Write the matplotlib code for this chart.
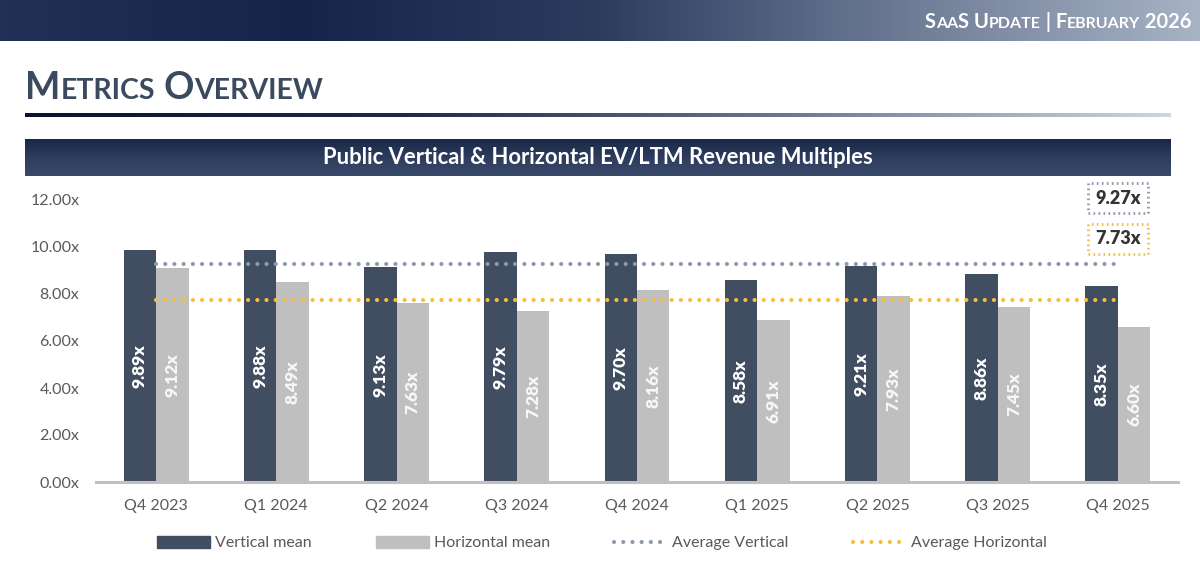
import matplotlib.pyplot as plt
import matplotlib.transforms as mtransforms
from matplotlib.colors import LinearSegmentedColormap
from matplotlib.patches import Patch
from matplotlib.lines import Line2D
import numpy as np

plt.rcParams['font.family'] = ['Lato', 'DejaVu Sans']

# chart data
quarters = ['Q4 2023', 'Q1 2024', 'Q2 2024', 'Q3 2024', 'Q4 2024',
            'Q1 2025', 'Q2 2025', 'Q3 2025', 'Q4 2025']
vertical_mean = [9.89, 9.88, 9.13, 9.79, 9.70, 8.58, 9.21, 8.86, 8.35]
horizontal_mean = [9.12, 8.49, 7.63, 7.28, 8.16, 6.91, 7.93, 7.45, 6.60]
avg_vertical = 9.27
avg_horizontal = 7.73
y_ticks = [0, 2, 4, 6, 8, 10, 12]

# colours
dark = '#414d60'
gray = '#bfbfbf'
avg_v_color = '#8d99ad'
avg_h_color = '#f5bf3a'
text_gray = '#595959'

W, H = 1200, 571
fig = plt.figure(figsize=(W / 100, H / 100), dpi=100)


def px_box(x0, y0, x1, y1):
    # pixel box (top-left origin) -> figure fraction rect
    return [x0 / W, 1 - y1 / H, (x1 - x0) / W, (y1 - y0) / H]


def gradient_axes(rect, colors, vertical=False):
    gax = fig.add_axes(rect)
    gax.set_axis_off()
    cmap = LinearSegmentedColormap.from_list('g', colors)
    grad = np.linspace(0, 1, 256)
    if vertical:
        grad = grad.reshape(-1, 1)
    else:
        grad = grad.reshape(1, -1)
    gax.imshow(grad, aspect='auto', cmap=cmap, extent=[0, 1, 0, 1])
    return gax


def small_caps(x, y, text, big, small, color, ha='left', weight='bold'):
    # draw text in small caps, x/y in pixels (top-left origin)
    renderer = fig.canvas.get_renderer()
    pieces = []
    cur = x
    i = 0
    while i < len(text):
        is_low = text[i].islower()
        j = i
        while j < len(text) and text[j].islower() == is_low:
            j += 1
        chunk = text[i:j]
        size = small if is_low else big
        t = fig.text(cur / W, 1 - y / H, chunk.upper(), fontsize=size,
                     color=color, fontweight=weight, va='baseline', ha='left')
        bb = t.get_window_extent(renderer)
        cur += bb.width
        pieces.append(t)
        i = j
    if ha == 'right':
        shift = cur - x
        for t in pieces:
            px, py = t.get_position()
            t.set_position((px - shift / W, py))


# header band
gradient_axes(px_box(0, 0, W, 41),
              ['#213156', '#15254a', '#2c3c5f', '#6c7a94', '#a7b2c4'])
small_caps(1192, 28, 'SaaS Update | February 2026', 14.5, 11.5, 'white', ha='right')

# page title
small_caps(25, 99, 'Metrics Overview', 27, 20.5, '#3c4a5f')
gradient_axes(px_box(25, 113, 1171, 117),
              ['#0b1330', '#1c2a4c', '#6a7890', '#cfd6e2'])

# chart title band
gradient_axes(px_box(25, 139, 1171, 176), ['#1a2846', '#2e3d5e', '#3a4a6b'],
              vertical=True)
fig.text(598 / W, 1 - 158 / H, 'Public Vertical & Horizontal EV/LTM Revenue Multiples',
         color='white', fontsize=15.8, fontweight='bold', ha='center', va='center')

# main chart
ax = fig.add_axes(px_box(96, 200, 1178, 482))
x = np.arange(len(quarters))
bw = 0.27
bars_v = ax.bar(x - bw / 2, vertical_mean, bw, color=dark, label='Vertical mean', zorder=2)
bars_h = ax.bar(x + bw / 2, horizontal_mean, bw, color=gray, label='Horizontal mean', zorder=2)

for b, v in zip(bars_v, vertical_mean):
    ax.text(b.get_x() + b.get_width() / 2, v / 2, f'{v:.2f}x', rotation=90,
            ha='center', va='center', color='white', fontsize=12.5, fontweight='heavy')
for b, v in zip(bars_h, horizontal_mean):
    ax.text(b.get_x() + b.get_width() / 2, v / 2, f'{v:.2f}x', rotation=90,
            ha='center', va='center', color='#f7f7f7', fontsize=12.5, fontweight='heavy')

dot_lw = 3.0
dots = (0, (0.01, 6.6 / dot_lw))
ax.plot([x[0], x[-1]], [avg_vertical] * 2, color=avg_v_color, lw=dot_lw,
        linestyle=dots, dash_capstyle='round', zorder=3)
ax.plot([x[0], x[-1]], [avg_horizontal] * 2, color=avg_h_color, lw=dot_lw,
        linestyle=dots, dash_capstyle='round', zorder=3)

ax.set_xlim(-0.5, len(quarters) - 0.5)
ax.set_ylim(0, 12)
ax.set_yticks(y_ticks)
ax.set_yticklabels([f'{t:.2f}x' for t in y_ticks])
ax.set_xticks(x)
ax.set_xticklabels(quarters)
ax.tick_params(axis='both', length=0, labelsize=11.5, labelcolor=text_gray)
ax.tick_params(axis='y', pad=12)
ax.tick_params(axis='x', pad=12)
for s in ['top', 'right', 'left']:
    ax.spines[s].set_visible(False)
ax.spines['bottom'].set_color('#c0c0c0')
ax.spines['bottom'].set_linewidth(2.2)

# average value boxes
trans = mtransforms.blended_transform_factory(ax.transData, fig.transFigure)
ax.text(x[-1], 1 - 198 / H, f'{avg_vertical:.2f}x', transform=trans,
        ha='center', va='center', fontsize=13, fontweight='heavy', color='#333333',
        bbox=dict(boxstyle='square,pad=0.38', fc='white', ec=avg_v_color,
                  lw=2, linestyle=(0, (0.6, 1.2))), clip_on=False)
ax.text(x[-1], 1 - 239 / H, f'{avg_horizontal:.2f}x', transform=trans,
        ha='center', va='center', fontsize=13, fontweight='heavy', color='#333333',
        bbox=dict(boxstyle='square,pad=0.38', fc='white', ec=avg_h_color,
                  lw=2, linestyle=(0, (0.6, 1.2))), clip_on=False)

# legend
handles = [
    Patch(color=dark, label='Vertical mean'),
    Patch(color=gray, label='Horizontal mean'),
    Line2D([], [], color=avg_v_color, lw=dot_lw, linestyle=dots,
           dash_capstyle='round', label='Average Vertical'),
    Line2D([], [], color=avg_h_color, lw=dot_lw, linestyle=dots,
           dash_capstyle='round', label='Average Horizontal'),
]
leg = fig.legend(handles=handles, loc='center', bbox_to_anchor=(602 / W, 1 - 543 / H),
                 ncol=4, frameon=False, fontsize=11.5, handlelength=3.3,
                 handleheight=0.8, handletextpad=0.35, columnspacing=4.0)
for t in leg.get_texts():
    t.set_color(text_gray)

fig.savefig('out.png', dpi=100)
